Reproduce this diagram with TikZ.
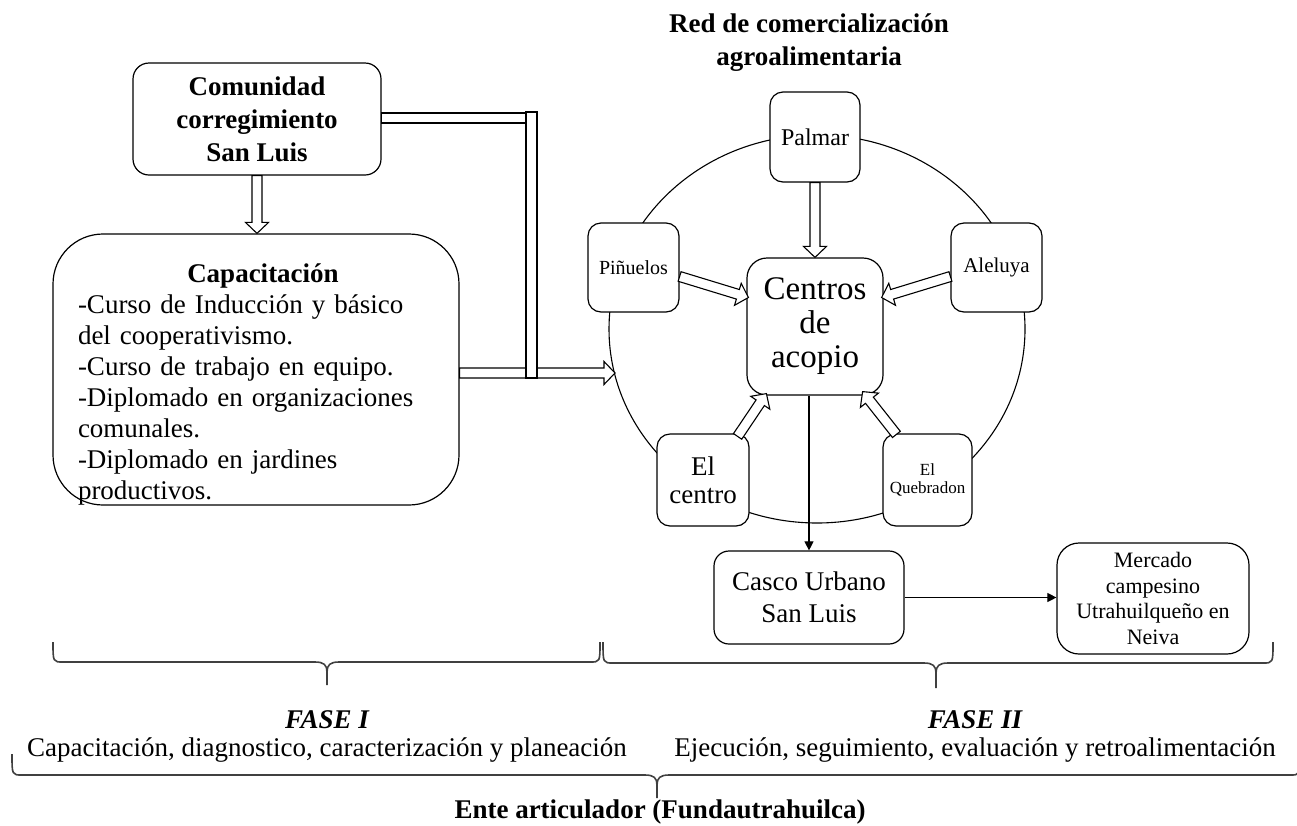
\documentclass[tikz,border=0pt]{standalone}
\usepackage{fontspec}
\setmainfont{Liberation Serif}
\usetikzlibrary{calc,arrows.meta}
\newcommand\fsz[2]{\fontsize{#1}{#2}\selectfont}
\newcommand\harrow[2]{%
  \coordinate (hA) at (#1);
  \coordinate (hB) at (#2);
  \coordinate (hH) at ($(hB)!11pt!(hA)$);
  \draw[hollow] ($(hA)!5pt!90:(hB)$) -- ($(hH)!5pt!-90:(hA)$) -- ($(hH)!11.5pt!-90:(hA)$) -- (hB)
     -- ($(hH)!11.5pt!90:(hA)$) -- ($(hH)!5pt!90:(hA)$) -- ($(hA)!5pt!-90:(hB)$) -- cycle;}
\newcommand\wbrace[6]{% x1,x2,xc,ytop,yflat,ytip
  \draw[bracestyle] (#1,#4) .. controls (#1,#5) .. (#1+10,#5) -- (#3-12,#5)
     .. controls (#3-3,#5) and (#3,#5+3) .. (#3,#5+10) -- (#3,#6);
  \draw[bracestyle] (#3,#5+10) .. controls (#3,#5+3) and (#3+3,#5) .. (#3+12,#5)
     -- (#2-10,#5) .. controls (#2,#5) .. (#2,#4);}
\begin{document}
\begin{tikzpicture}[x=1pt,y=-1pt,
  rbox/.style={draw, line width=1.2pt, rounded corners=#1, fill=white, inner sep=0pt, align=center},
  hollow/.style={draw, line width=1.1pt, fill=white, line join=miter},
  thinarrow/.style={line width=1.1pt, -{Triangle[length=9pt,width=9pt]}},
  bracestyle/.style={line width=1.6pt, black!75},
  lbl/.style={inner sep=0pt, align=center, font=\fsz{27}{31}}]
\useasboundingbox (0,0) rectangle (1297,825);

% circle of the network
\draw[line width=1.1pt] (817,329) ellipse [x radius=208pt, y radius=194pt];

% title of network
\node[lbl, font=\bfseries\fsz{27}{33}] (red) at (809,43) {Red de comercialización\\agroalimentaria};

% left side
\node[rbox=16, minimum width=248, minimum height=112, font=\bfseries\fsz{27}{33}] (com) at (257,119) {Comunidad\\corregimiento\\San Luis};
\node[rbox=50, minimum width=406, minimum height=271] (cap) at (256,369.5) {};
\node[inner sep=0pt, text width=370, align=left, font=\fsz{27}{31}] (captext) at (263,384)
 {\makebox[\linewidth][c]{\bfseries Capacitación}\\
  -Curso de Inducción y básico\\
  del cooperativismo.\\
  -Curso de trabajo en equipo.\\
  -Diplomado en organizaciones\\
  comunales.\\
  -Diplomado en jardines\\
  productivos.};

% network nodes
\node[rbox=13, minimum width=90, minimum height=90, font=\fsz{24}{28}] (palmar) at (815,137) {Palmar};
\node[rbox=13, minimum width=91, minimum height=89, font=\fsz{20}{24}] (pin) at (633.5,267.5) {Piñuelos};
\node[rbox=13, minimum width=91, minimum height=89, font=\fsz{21}{24}] (ale) at (996.5,267.5) {Aleluya};
\node[rbox=20, minimum width=136, minimum height=137, font=\fsz{33}{34}] (centros) at (815,326.5) {Centros\\de\\acopio};
\node[rbox=13, minimum width=92, minimum height=92, font=\fsz{27}{28}] (ec) at (703,480) {El\\centro};
\node[rbox=13, minimum width=89, minimum height=92, font=\fsz{17}{18}] (queb) at (927.5,480) {El\\Quebradon};
\node[rbox=15, minimum width=190, minimum height=93, font=\fsz{27}{32}] (casco) at (809,597.5) {Casco Urbano\\San Luis};
\node[rbox=22, minimum width=192, minimum height=111, font=\fsz{22}{25.5}] (merc) at (1153,598.5) {Mercado\\campesino\\Utrahuilqueño en\\Neiva};

% connectors
\harrow{com.south}{com.south |- cap.north}
\coordinate (redL) at (615,373);
\coordinate (jt) at (531.5,117.5);
\coordinate (jb) at (531.5,373);
\harrow{$(cap.east)+(0,3.5)$}{redL}
\draw[hollow] ($(com.east)+(0,-6)$) rectangle ($(jt)+(-5.5,5.5)$);
\draw[hollow] ($(jt)+(-5.5,-5.5)$) rectangle ($(jb)+(5.5,5)$);

\harrow{palmar.south}{centros.north}
\harrow{$(pin.east)+(0,9)$}{$(centros.west)+(2,-29)$}
\harrow{$(ale.west)+(0,9)$}{$(centros.east)+(-2,-29)$}
\harrow{$(ec.north east)+(-12,3)$}{$(centros.south west)+(20,-2)$}
\harrow{$(queb.north west)+(14,1)$}{$(centros.south east)+(-21,-4)$}

\draw[thinarrow] (casco.north |- centros.south) -- (casco.north);
\draw[thinarrow] (casco.east) -- (casco.east -| merc.west);

% braces
\wbrace{53}{600}{327}{642}{662}{685}
\wbrace{603}{1273}{936}{642}{663}{688}
\wbrace{12}{1300}{657}{754}{775}{798}

% phase labels
\node[lbl, font=\bfseries\itshape\fsz{27}{31}] (f1) at (327,720) {FASE I};
\node[lbl] (f1d) at (327,750) {Capacitación, diagnostico, caracterización y planeación};
\node[lbl, font=\bfseries\itshape\fsz{27}{31}] (f2) at (975,720) {FASE II};
\node[lbl] (f2d) at (975,750) {Ejecución, seguimiento, evaluación y retroalimentación};
\node[lbl, font=\bfseries\fsz{27}{31}] (ente) at (660,812) {Ente articulador (Fundautrahuilca)};
\end{tikzpicture}
\end{document}
